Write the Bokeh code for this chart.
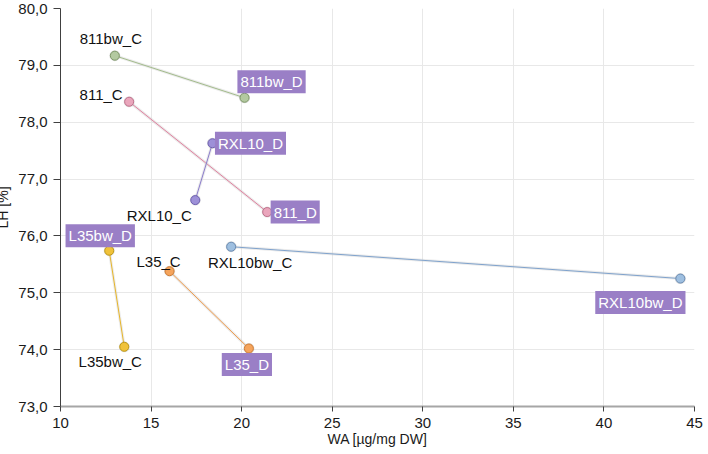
from bokeh.plotting import figure
from bokeh.models import Range1d, SingleIntervalTicker, CustomJSTickFormatter, ColumnDataSource
from bokeh.core.properties import value
from bokeh.embed import file_html
from bokeh.resources import INLINE

# ---- data ----
genotypes = ["811bw", "811", "RXL10", "L35bw", "L35", "RXL10bw"]
wa_c = [13.0, 13.79, 17.44, 13.52, 16.02, 19.42]
lh_c = [79.17, 78.36, 76.63, 74.05, 75.38, 75.81]
wa_d = [20.16, 21.41, 18.39, 12.69, 20.40, 44.22]
lh_d = [78.43, 76.42, 77.63, 75.74, 74.02, 75.25]

# ---- styles ----
fill_colors = ["#b3c9a0", "#eaa6bc", "#9d90d8", "#f0c23a", "#f5a45c", "#9ebfe0"]
edge_colors = ["#7e9868", "#c0728c", "#6e60b0", "#c09a18", "#cf7c34", "#6a8cb4"]
line_colors = ["#a3bc8c", "#e0809e", "#8b7ccc", "#e6b52a", "#f09c4c", "#7fa2cc"]
c_off = [(-4, -17), (-28, -7), (-36, 15), (-14, 15), (-11, -10), (19, 16)]
d_off = [(27, -16), (28, 0), (38, 0), (-9, -15), (-2, 16), (-40, 24)]

FONT = "Liberation Sans"

p = figure(frame_width=634, frame_height=398, output_backend="svg", toolbar_location=None,
           x_range=Range1d(10, 45), y_range=Range1d(73, 80),
           min_border_left=65, min_border_right=9, min_border_top=8, min_border_bottom=48)
p.margin = (0, 0, 0, -8)
p.outline_line_color = None
p.background_fill_color = "white"
p.border_fill_color = "white"

# grid
p.xgrid.ticker = SingleIntervalTicker(interval=5)
p.ygrid.ticker = SingleIntervalTicker(interval=1)
p.grid.grid_line_color = "#e8e8e8"
p.grid.grid_line_width = 1

# axes
p.xaxis.ticker = SingleIntervalTicker(interval=5)
p.yaxis.ticker = SingleIntervalTicker(interval=1)
p.yaxis.formatter = CustomJSTickFormatter(code="return tick.toFixed(1).replace('.', ',');")
p.xaxis.axis_label = "WA [µg/mg DW]"
p.yaxis.axis_label = "LH [%]"
for ax in (p.xaxis, p.yaxis):
    ax.axis_label_text_font = FONT
    ax.axis_label_text_font_style = "normal"
    ax.axis_label_text_font_size = "14px"
    ax.axis_label_text_color = "#1a1a1a"
    ax.major_label_text_font = FONT
    ax.major_label_text_font_size = "15px"
    ax.major_label_text_color = "#1a1a1a"
    ax.minor_tick_line_color = None
    ax.major_tick_in = 0
p.xaxis.axis_line_color = "#a6a6a6"
p.xaxis.axis_line_width = 2
p.xaxis.major_tick_line_color = "#404040"
p.xaxis.major_tick_out = 5
p.xaxis.major_label_standoff = 6
p.xaxis.axis_label_standoff = 0
p.yaxis.axis_line_color = "#404040"
p.yaxis.axis_line_width = 1
p.yaxis.major_tick_line_color = "#404040"
p.yaxis.major_tick_out = 7
p.yaxis.major_label_standoff = 6
p.yaxis.axis_label_standoff = 4

# lines (with soft shadow)
for i in range(len(genotypes)):
    xs = [wa_c[i], wa_d[i]]
    ys = [lh_c[i], lh_d[i]]
    p.line(xs, ys, line_color="#cccccc", line_width=3, line_alpha=0.4)
    p.line(xs, ys, line_color=line_colors[i], line_width=1)

# markers
pts = ColumnDataSource(dict(
    x=wa_c + wa_d, y=lh_c + lh_d,
    fill=fill_colors + fill_colors, edge=edge_colors + edge_colors,
))
p.scatter("x", "y", source=pts, size=11, fill_color="#9a9a9a", fill_alpha=0.3, line_color=None)
p.scatter("x", "y", source=pts, size=9, fill_color="fill", line_color="edge", line_width=1)

# C labels (black)
src_c = ColumnDataSource(dict(
    x=wa_c, y=lh_c, t=[g + "_C" for g in genotypes],
    xo=[o[0] for o in c_off], yo=[o[1] for o in c_off],
))
p.text("x", "y", text="t", source=src_c, x_offset="xo", y_offset="yo",
       text_align="center", text_baseline="middle", text_font=value(FONT),
       text_font_size="15px", text_color="#111111")

# D labels (white on purple)
src_d = ColumnDataSource(dict(
    x=wa_d, y=lh_d, t=[g + "_D" for g in genotypes],
    xo=[o[0] for o in d_off], yo=[o[1] for o in d_off],
))
p.text("x", "y", text="t", source=src_d, x_offset="xo", y_offset="yo",
       text_align="center", text_baseline="middle", text_font=value(FONT),
       text_font_size="15px", text_color="white",
       background_fill_color="#9a7fc6", padding=3)

open("out.html", "w").write(file_html(p, INLINE))
